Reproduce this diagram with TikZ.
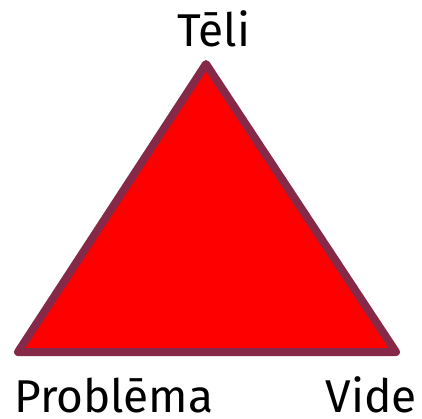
\documentclass[tikz,border=0pt]{standalone}
\usepackage{fontspec}
\setmainfont{Fira Sans}
\usepackage{xcolor}
\usetikzlibrary{positioning}
\definecolor{edgemaroon}{RGB}{134,41,72}
\definecolor{fillred}{RGB}{255,0,0}

\begin{document}
\begin{tikzpicture}[x=1pt, y=1pt,
    corner/.style={font=\fontsize{46}{46}\selectfont, inner sep=0pt,
                   text depth=0pt, anchor=base}]
   % kadrs
   \useasboundingbox (0,0) rectangle (422,418);

   % trijstura virsotnes
   \coordinate (top) at (206,354);
   \coordinate (left) at (18,66);
   \coordinate (right) at (396,66);

   % trijsturis
   \draw[edgemaroon, fill=fillred, line width=8pt, line join=round]
     (top) -- (left) -- (right) -- cycle;

   % uzraksti
   \node[corner] (teli) at (214,371) {Tēli};
   \node[corner, anchor=base west] (problema) at (14,6) {Problēma};
   \node[corner, anchor=base east] (vide) at (417,6) {Vide};
\end{tikzpicture}
\end{document}
